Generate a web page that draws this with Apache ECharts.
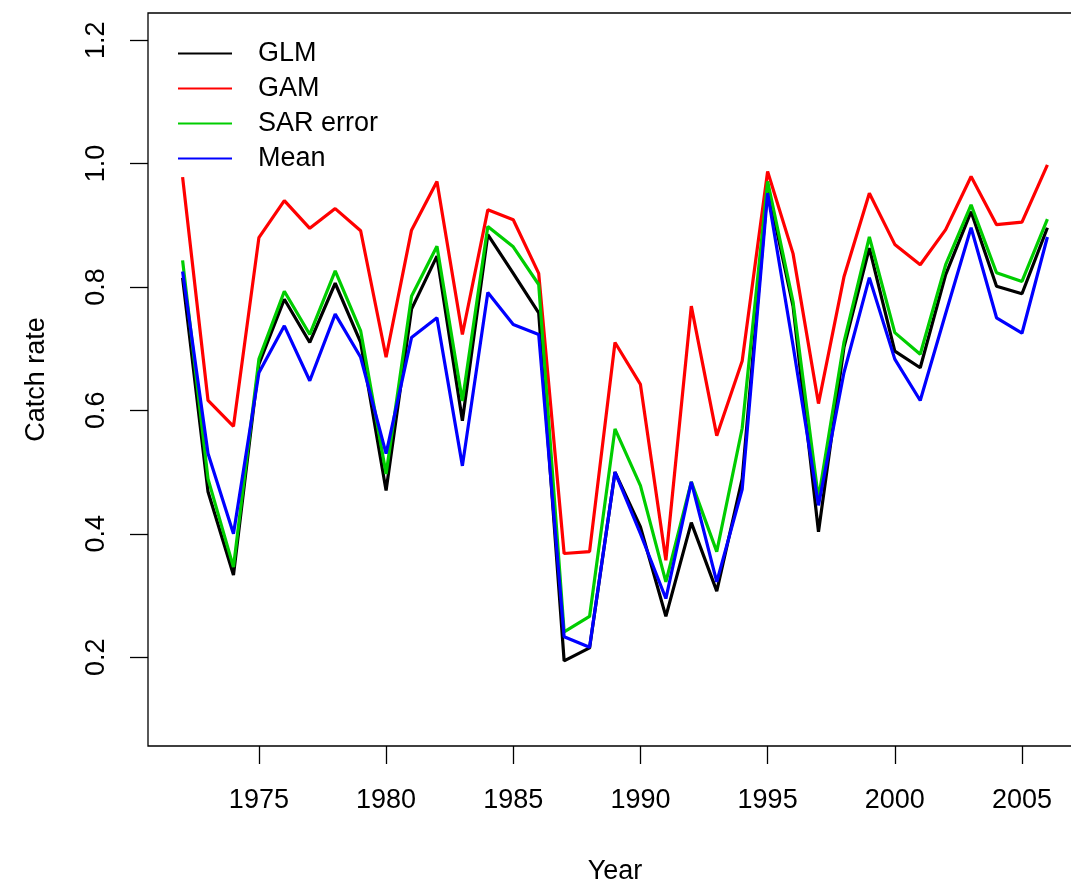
<!DOCTYPE html>
<html>
<head>
<meta charset="utf-8">
<title>Catch rate by year</title>
<script src="https://cdn.jsdelivr.net/npm/echarts@6/dist/echarts.min.js"></script>
<style>
  html, body { margin: 0; padding: 0; background: #fff; }
  #chart { width: 1071px; height: 886px; }
</style>
</head>
<body>
<div id="chart"></div>
<script>
// Yearly catch-rate indices from three models plus their mean
const years = [1972, 1973, 1974, 1975, 1976, 1977, 1978, 1979, 1980, 1981, 1982, 1983,
  1984, 1985, 1986, 1987, 1988, 1989, 1990, 1991, 1992, 1993, 1994, 1995, 1996, 1997,
  1998, 1999, 2000, 2001, 2002, 2003, 2004, 2005, 2006];

const glm = [0.815, 0.468, 0.333, 0.675, 0.780, 0.710, 0.806, 0.710, 0.470, 0.764, 0.850, 0.583,
  0.885, 0.822, 0.758, 0.194, 0.215, 0.500, 0.411, 0.266, 0.418, 0.307, 0.489, 0.960, 0.769, 0.403,
  0.702, 0.863, 0.696, 0.669, 0.820, 0.922, 0.801, 0.789, 0.896];

const gam = [0.978, 0.616, 0.574, 0.880, 0.940, 0.895, 0.927, 0.891, 0.686, 0.892, 0.971, 0.723,
  0.925, 0.909, 0.822, 0.368, 0.371, 0.710, 0.642, 0.357, 0.769, 0.559, 0.680, 0.987, 0.854, 0.611,
  0.816, 0.952, 0.869, 0.836, 0.893, 0.979, 0.901, 0.905, 0.998];

const sarError = [0.843, 0.489, 0.346, 0.683, 0.793, 0.723, 0.826, 0.729, 0.497, 0.785, 0.866, 0.615,
  0.898, 0.865, 0.804, 0.241, 0.266, 0.570, 0.478, 0.322, 0.484, 0.371, 0.571, 0.971, 0.776, 0.457,
  0.710, 0.881, 0.726, 0.691, 0.836, 0.933, 0.823, 0.809, 0.910];

const meanIdx = [0.825, 0.530, 0.400, 0.661, 0.737, 0.648, 0.756, 0.686, 0.530, 0.718, 0.750, 0.510,
  0.791, 0.739, 0.723, 0.233, 0.216, 0.500, 0.400, 0.295, 0.484, 0.322, 0.472, 0.952, 0.705, 0.446,
  0.661, 0.815, 0.683, 0.616, 0.757, 0.896, 0.750, 0.725, 0.881];

const seriesNames = ['GLM', 'GAM', 'SAR error', 'Mean'];
const xTicks = [1975, 1980, 1985, 1990, 1995, 2000, 2005];
const yTicks = [0.2, 0.4, 0.6, 0.8, 1.0, 1.2];

const colors = ['#000000', '#FF0000', '#00CD00', '#0000FF'];
const valueSets = [glm, gam, sarError, meanIdx];
const FONT = '"Liberation Sans", Arial, Helvetica, sans-serif';

const chart = echarts.init(document.getElementById('chart'), null, { renderer: 'canvas' });

chart.setOption({
  animation: false,
  backgroundColor: '#ffffff',
  textStyle: { fontFamily: FONT, color: '#000' },
  grid: {
    // plot region runs past the right edge of the canvas
    left: 148, top: 13, width: 934, height: 733,
    outerBoundsMode: 'none',
    containLabel: false,
    show: true, borderColor: '#000', borderWidth: 1.3, backgroundColor: 'transparent'
  },
  legend: {
    orient: 'vertical',
    left: 173, top: 31,
    icon: 'rect',
    itemWidth: 54, itemHeight: 2,
    itemGap: 0,
    data: seriesNames,
    textStyle: { fontFamily: FONT, fontSize: 27, color: '#000', lineHeight: 35, padding: [0, 0, 0, 21] }
  },
  xAxis: {
    type: 'value',
    min: 1970.64, max: 2007.36,
    name: 'Year', nameLocation: 'middle', nameGap: 112,
    nameTextStyle: { fontFamily: FONT, fontSize: 27, color: '#000' },
    axisLine: { show: false },
    axisTick: { show: true, length: 18, customValues: xTicks, lineStyle: { color: '#000', width: 1.3 } },
    axisLabel: {
      customValues: xTicks, fontFamily: FONT, fontSize: 27, color: '#000', margin: 41,
      formatter: v => String(Math.round(v))
    },
    splitLine: { show: false }
  },
  yAxis: {
    type: 'value',
    min: 0.056, max: 1.244,
    name: 'Catch rate', nameLocation: 'middle', nameGap: 98,
    nameTextStyle: { fontFamily: FONT, fontSize: 27, color: '#000' },
    axisLine: { show: false },
    axisTick: { show: true, length: 18, customValues: yTicks, lineStyle: { color: '#000', width: 1.3 } },
    axisLabel: {
      customValues: yTicks, rotate: 90, fontFamily: FONT, fontSize: 27, color: '#000', margin: 38,
      formatter: v => v.toFixed(1)
    },
    splitLine: { show: false }
  },
  series: seriesNames.map((name, i) => ({
    name,
    type: 'line',
    symbol: 'none',
    color: colors[i],
    lineStyle: { color: colors[i], width: 3.2 },
    data: years.map((y, k) => [y, valueSets[i][k]])
  }))
});
</script>
</body>
</html>
